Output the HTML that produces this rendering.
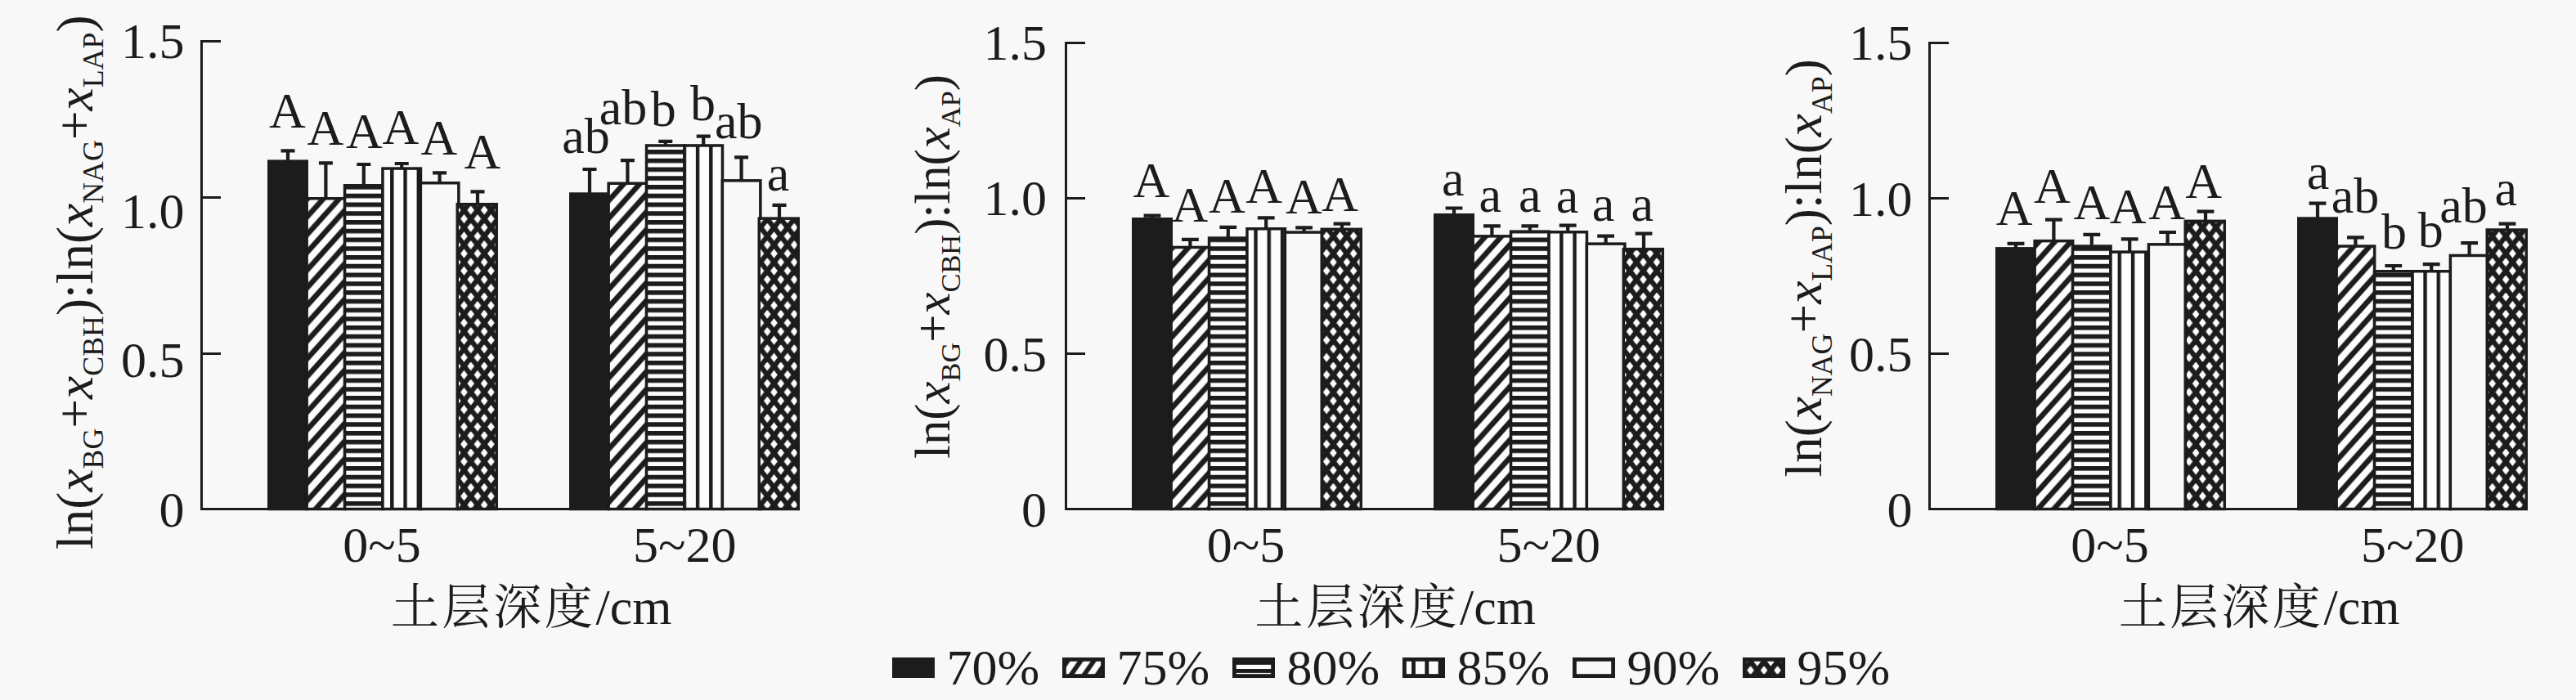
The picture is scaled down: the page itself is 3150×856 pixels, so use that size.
<!DOCTYPE html>
<html lang="zh"><head><meta charset="utf-8"><title>土层深度 酶化学计量比</title>
<style>
html,body{margin:0;padding:0;background:#f8f8f8;}
body{width:3150px;height:856px;overflow:hidden;}
svg{display:block;}
text{font-family:'Liberation Serif','Noto Serif CJK SC',serif;font-size:62px;fill:#1c1c1c;}
.i{font-style:italic;}
.s{font-size:35px;}
.cj{font-family:'Liberation Serif','Noto Serif CJK SC',serif;font-weight:400;}
</style></head><body>
<svg width="3150" height="856" viewBox="0 0 3150 856">
<defs>
<pattern id="pd" patternUnits="userSpaceOnUse" x="3" y="7" width="19.5" height="21.7">
<rect width="19.5" height="21.7" fill="#fdfdfd"/>
<line x1="-39" y1="43.4" x2="19.5" y2="-21.7" stroke="#1c1c1c" stroke-width="6.5"/>
<line x1="-19.5" y1="43.4" x2="39" y2="-21.7" stroke="#1c1c1c" stroke-width="6.5"/>
<line x1="0" y1="43.4" x2="58.5" y2="-21.7" stroke="#1c1c1c" stroke-width="6.5"/>
</pattern>
<pattern id="ph" patternUnits="userSpaceOnUse" x="0" y="0.25" width="20" height="10.75">
<rect width="20" height="10.75" fill="#fdfdfd"/>
<rect y="0" width="20" height="5.6" fill="#1c1c1c"/>
</pattern>
<pattern id="pv" patternUnits="userSpaceOnUse" x="5.85" y="0" width="16.25" height="20">
<rect width="16.25" height="20" fill="#fdfdfd"/>
<rect x="0" width="4.4" height="20" fill="#1c1c1c"/>
</pattern>
<pattern id="pc" patternUnits="userSpaceOnUse" x="-1.1" y="13.2" width="16.48" height="21.2">
<rect width="16.48" height="21.2" fill="#fdfdfd"/>
<line x1="-32.96" y1="42.4" x2="16.48" y2="-21.2" stroke="#1c1c1c" stroke-width="6.1"/>
<line x1="-32.96" y1="-21.2" x2="16.48" y2="42.4" stroke="#1c1c1c" stroke-width="6.1"/>
<line x1="-16.48" y1="42.4" x2="32.96" y2="-21.2" stroke="#1c1c1c" stroke-width="6.1"/>
<line x1="-16.48" y1="-21.2" x2="32.96" y2="42.4" stroke="#1c1c1c" stroke-width="6.1"/>
<line x1="0" y1="42.4" x2="49.44" y2="-21.2" stroke="#1c1c1c" stroke-width="6.1"/>
<line x1="0" y1="-21.2" x2="49.44" y2="42.4" stroke="#1c1c1c" stroke-width="6.1"/>
</pattern>
<pattern id="pdl" patternUnits="userSpaceOnUse" x="14.5" y="801" width="16" height="23">
<rect width="16" height="23" fill="#fdfdfd"/>
<line x1="-32" y1="46" x2="16" y2="-23" stroke="#1c1c1c" stroke-width="5.7"/>
<line x1="-16" y1="46" x2="32" y2="-23" stroke="#1c1c1c" stroke-width="5.7"/>
<line x1="0" y1="46" x2="48" y2="-23" stroke="#1c1c1c" stroke-width="5.7"/>
</pattern>
<pattern id="pcl" patternUnits="userSpaceOnUse" x="14.68" y="3.5" width="16.48" height="21.2">
<rect width="16.48" height="21.2" fill="#fdfdfd"/>
<line x1="-32.96" y1="42.4" x2="16.48" y2="-21.2" stroke="#1c1c1c" stroke-width="6.1"/>
<line x1="-32.96" y1="-21.2" x2="16.48" y2="42.4" stroke="#1c1c1c" stroke-width="6.1"/>
<line x1="-16.48" y1="42.4" x2="32.96" y2="-21.2" stroke="#1c1c1c" stroke-width="6.1"/>
<line x1="-16.48" y1="-21.2" x2="32.96" y2="42.4" stroke="#1c1c1c" stroke-width="6.1"/>
<line x1="0" y1="42.4" x2="49.44" y2="-21.2" stroke="#1c1c1c" stroke-width="6.1"/>
<line x1="0" y1="-21.2" x2="49.44" y2="42.4" stroke="#1c1c1c" stroke-width="6.1"/>
</pattern>
</defs>
<rect width="3150" height="856" fill="#f8f8f8"/>
<g>
<path d="M352 196.4V184.3M343.5 184.3H360.5" stroke="#1c1c1c" stroke-width="4.2" fill="none"/>
<rect x="328.75" y="197.15" width="46.5" height="425.35" fill="#1c1c1c" stroke="#1c1c1c" stroke-width="3.5"/>
<path d="M398.4 242V199.3M389.9 199.3H406.9" stroke="#1c1c1c" stroke-width="4.2" fill="none"/>
<rect x="375.15" y="242.75" width="46.5" height="379.75" fill="url(#pd)" stroke="#1c1c1c" stroke-width="3.5"/>
<path d="M444.8 226V201M436.3 201H453.3" stroke="#1c1c1c" stroke-width="4.2" fill="none"/>
<rect x="421.55" y="226.75" width="46.5" height="395.75" fill="url(#ph)" stroke="#1c1c1c" stroke-width="3.5"/>
<path d="M491.2 205.3V200M482.7 200H499.7" stroke="#1c1c1c" stroke-width="4.2" fill="none"/>
<rect x="467.95" y="206.05" width="46.5" height="416.45" fill="url(#pv)" stroke="#1c1c1c" stroke-width="3.5"/>
<path d="M537.6 223V211.4M529.1 211.4H546.1" stroke="#1c1c1c" stroke-width="4.2" fill="none"/>
<rect x="514.35" y="223.75" width="46.5" height="398.75" fill="#f8f8f8" stroke="#1c1c1c" stroke-width="3.5"/>
<path d="M584 249V234.3M575.5 234.3H592.5" stroke="#1c1c1c" stroke-width="4.2" fill="none"/>
<rect x="559.25" y="249.75" width="48" height="372.75" fill="url(#pc)" stroke="#1c1c1c" stroke-width="3.5"/>
<path d="M721 236.3V207M712.5 207H729.5" stroke="#1c1c1c" stroke-width="4.2" fill="none"/>
<rect x="697.75" y="237.05" width="46.5" height="385.45" fill="#1c1c1c" stroke="#1c1c1c" stroke-width="3.5"/>
<path d="M767.4 223.5V196.2M758.9 196.2H775.9" stroke="#1c1c1c" stroke-width="4.2" fill="none"/>
<rect x="744.15" y="224.25" width="46.5" height="398.25" fill="url(#pd)" stroke="#1c1c1c" stroke-width="3.5"/>
<path d="M813.8 177.2V172.8M805.3 172.8H822.3" stroke="#1c1c1c" stroke-width="4.2" fill="none"/>
<rect x="790.55" y="177.95" width="46.5" height="444.55" fill="url(#ph)" stroke="#1c1c1c" stroke-width="3.5"/>
<path d="M860.2 177.2V166.7M851.7 166.7H868.7" stroke="#1c1c1c" stroke-width="4.2" fill="none"/>
<rect x="836.95" y="177.95" width="46.5" height="444.55" fill="url(#pv)" stroke="#1c1c1c" stroke-width="3.5"/>
<path d="M906.6 220.1V192.4M898.1 192.4H915.1" stroke="#1c1c1c" stroke-width="4.2" fill="none"/>
<rect x="883.35" y="220.85" width="46.5" height="401.65" fill="#f8f8f8" stroke="#1c1c1c" stroke-width="3.5"/>
<path d="M953 266.4V250.8M944.5 250.8H961.5" stroke="#1c1c1c" stroke-width="4.2" fill="none"/>
<rect x="928.25" y="267.15" width="48" height="355.35" fill="url(#pc)" stroke="#1c1c1c" stroke-width="3.5"/>
<path d="M246.5 49V622.5H978" stroke="#1c1c1c" stroke-width="3" fill="none" stroke-linejoin="miter"/>
<line x1="246.5" y1="50.5" x2="270" y2="50.5" stroke="#1c1c1c" stroke-width="3"/>
<line x1="246.5" y1="241.5" x2="270" y2="241.5" stroke="#1c1c1c" stroke-width="3"/>
<line x1="246.5" y1="432.5" x2="270" y2="432.5" stroke="#1c1c1c" stroke-width="3"/>
<text x="225.5" y="70.9" text-anchor="end">1.5</text>
<text x="225.5" y="278.9" text-anchor="end">1.0</text>
<text x="225.5" y="461.4" text-anchor="end">0.5</text>
<text x="225.5" y="644" text-anchor="end">0</text>
<text x="351.5" y="155.5" text-anchor="middle">A</text>
<text x="397.8" y="177" text-anchor="middle">A</text>
<text x="445.4" y="180.8" text-anchor="middle">A</text>
<text x="490" y="176.2" text-anchor="middle">A</text>
<text x="537" y="188.6" text-anchor="middle">A</text>
<text x="589.8" y="205.7" text-anchor="middle">A</text>
<text x="716.4" y="187.2" text-anchor="middle">ab</text>
<text x="762" y="151.7" text-anchor="middle">ab</text>
<text x="811.2" y="154.3" text-anchor="middle">b</text>
<text x="859.4" y="147.1" text-anchor="middle">b</text>
<text x="903.2" y="169.2" text-anchor="middle">ab</text>
<text x="951.4" y="232.8" text-anchor="middle">a</text>
<text x="466.9" y="687.1" text-anchor="middle">0~5</text>
<text x="837.2" y="687.1" text-anchor="middle">5~20</text>
<text class="cj" x="478" y="762.6"><tspan style="font-size:59px;letter-spacing:3.6px">土层深度</tspan>/cm</text>
<text transform="translate(113 672) rotate(-90)"><tspan style="font-size:63.43px">ln(</tspan><tspan class="i" style="font-size:63.43px">x</tspan><tspan class="s" dy="12.5" style="font-size:35.8px">BG</tspan><tspan dy="-12.5" style="font-size:63.43px">+</tspan><tspan class="i" style="font-size:63.43px">x</tspan><tspan class="s" dy="12.5" style="font-size:35.8px">CBH</tspan><tspan dy="-12.5" style="font-size:63.43px">):ln(</tspan><tspan class="i" style="font-size:63.43px">x</tspan><tspan class="s" dy="12.5" style="font-size:35.8px">NAG</tspan><tspan dy="-12.5" style="font-size:63.43px">+</tspan><tspan class="i" style="font-size:63.43px">x</tspan><tspan class="s" dy="12.5" style="font-size:35.8px">LAP</tspan><tspan dy="-12.5" style="font-size:63.43px">)</tspan></text>
</g>
<g>
<path d="M1409 267V263.6M1398.6 263.6H1419.4" stroke="#1c1c1c" stroke-width="4.2" fill="none"/>
<rect x="1385.75" y="267.75" width="46.5" height="354.75" fill="#1c1c1c" stroke="#1c1c1c" stroke-width="3.5"/>
<path d="M1455.4 301.7V292.9M1445 292.9H1465.8" stroke="#1c1c1c" stroke-width="4.2" fill="none"/>
<rect x="1432.15" y="302.45" width="46.5" height="320.05" fill="url(#pd)" stroke="#1c1c1c" stroke-width="3.5"/>
<path d="M1501.8 290.3V277.9M1491.4 277.9H1512.2" stroke="#1c1c1c" stroke-width="4.2" fill="none"/>
<rect x="1478.55" y="291.05" width="46.5" height="331.45" fill="url(#ph)" stroke="#1c1c1c" stroke-width="3.5"/>
<path d="M1548.2 279V266.4M1537.8 266.4H1558.6" stroke="#1c1c1c" stroke-width="4.2" fill="none"/>
<rect x="1524.95" y="279.75" width="46.5" height="342.75" fill="url(#pv)" stroke="#1c1c1c" stroke-width="3.5"/>
<path d="M1594.6 283.3V278.3M1584.2 278.3H1605" stroke="#1c1c1c" stroke-width="4.2" fill="none"/>
<rect x="1571.35" y="284.05" width="46.5" height="338.45" fill="#f8f8f8" stroke="#1c1c1c" stroke-width="3.5"/>
<path d="M1641 279.6V273.6M1630.6 273.6H1651.4" stroke="#1c1c1c" stroke-width="4.2" fill="none"/>
<rect x="1616.25" y="280.35" width="48" height="342.15" fill="url(#pc)" stroke="#1c1c1c" stroke-width="3.5"/>
<path d="M1778 262V254.5M1767.6 254.5H1788.4" stroke="#1c1c1c" stroke-width="4.2" fill="none"/>
<rect x="1754.75" y="262.75" width="46.5" height="359.75" fill="#1c1c1c" stroke="#1c1c1c" stroke-width="3.5"/>
<path d="M1824.4 288.1V276.4M1814 276.4H1834.8" stroke="#1c1c1c" stroke-width="4.2" fill="none"/>
<rect x="1801.15" y="288.85" width="46.5" height="333.65" fill="url(#pd)" stroke="#1c1c1c" stroke-width="3.5"/>
<path d="M1870.8 282.4V276.4M1860.4 276.4H1881.2" stroke="#1c1c1c" stroke-width="4.2" fill="none"/>
<rect x="1847.55" y="283.15" width="46.5" height="339.35" fill="url(#ph)" stroke="#1c1c1c" stroke-width="3.5"/>
<path d="M1917.2 283V275.7M1906.8 275.7H1927.6" stroke="#1c1c1c" stroke-width="4.2" fill="none"/>
<rect x="1893.95" y="283.75" width="46.5" height="338.75" fill="url(#pv)" stroke="#1c1c1c" stroke-width="3.5"/>
<path d="M1963.6 297.4V288.6M1953.2 288.6H1974" stroke="#1c1c1c" stroke-width="4.2" fill="none"/>
<rect x="1940.35" y="298.15" width="46.5" height="324.35" fill="#f8f8f8" stroke="#1c1c1c" stroke-width="3.5"/>
<path d="M2010 303.9V285.7M1999.6 285.7H2020.4" stroke="#1c1c1c" stroke-width="4.2" fill="none"/>
<rect x="1985.25" y="304.65" width="48" height="317.85" fill="url(#pc)" stroke="#1c1c1c" stroke-width="3.5"/>
<path d="M1303.5 51V622.5H2035" stroke="#1c1c1c" stroke-width="3" fill="none" stroke-linejoin="miter"/>
<line x1="1303.5" y1="52.5" x2="1327" y2="52.5" stroke="#1c1c1c" stroke-width="3"/>
<line x1="1303.5" y1="242.5" x2="1327" y2="242.5" stroke="#1c1c1c" stroke-width="3"/>
<line x1="1303.5" y1="432.5" x2="1327" y2="432.5" stroke="#1c1c1c" stroke-width="3"/>
<text x="1280" y="72.8" text-anchor="end">1.5</text>
<text x="1280" y="263.2" text-anchor="end">1.0</text>
<text x="1280" y="453.7" text-anchor="end">0.5</text>
<text x="1280" y="643.5" text-anchor="end">0</text>
<text x="1407.9" y="241.1" text-anchor="middle">A</text>
<text x="1455" y="271.4" text-anchor="middle">A</text>
<text x="1500.4" y="260.3" text-anchor="middle">A</text>
<text x="1545.7" y="248.3" text-anchor="middle">A</text>
<text x="1594.3" y="261.4" text-anchor="middle">A</text>
<text x="1638.6" y="258.3" text-anchor="middle">A</text>
<text x="1776.8" y="239.3" text-anchor="middle">a</text>
<text x="1822.2" y="259.3" text-anchor="middle">a</text>
<text x="1870.8" y="259.3" text-anchor="middle">a</text>
<text x="1916.5" y="260" text-anchor="middle">a</text>
<text x="1960.4" y="270" text-anchor="middle">a</text>
<text x="2008.2" y="270" text-anchor="middle">a</text>
<text x="1523.5" y="687.1" text-anchor="middle">0~5</text>
<text x="1893.8" y="687.1" text-anchor="middle">5~20</text>
<text class="cj" x="1534.6" y="762.6"><tspan style="font-size:59px;letter-spacing:3.6px">土层深度</tspan>/cm</text>
<text transform="translate(1161 561) rotate(-90)"><tspan style="font-size:60.82px">ln(</tspan><tspan class="i" style="font-size:60.82px">x</tspan><tspan class="s" dy="12.5" style="font-size:34.34px">BG</tspan><tspan dy="-12.5" style="font-size:60.82px">+</tspan><tspan class="i" style="font-size:60.82px">x</tspan><tspan class="s" dy="12.5" style="font-size:34.34px">CBH</tspan><tspan dy="-12.5" style="font-size:60.82px">):ln(</tspan><tspan class="i" style="font-size:60.82px">x</tspan><tspan class="s" dy="12.5" style="font-size:34.34px">AP</tspan><tspan dy="-12.5" style="font-size:60.82px">)</tspan></text>
</g>
<g>
<path d="M2465 303.1V297.9M2454.6 297.9H2475.4" stroke="#1c1c1c" stroke-width="4.2" fill="none"/>
<rect x="2441.75" y="303.85" width="46.5" height="318.65" fill="#1c1c1c" stroke="#1c1c1c" stroke-width="3.5"/>
<path d="M2511.4 293.9V268.6M2501 268.6H2521.8" stroke="#1c1c1c" stroke-width="4.2" fill="none"/>
<rect x="2488.15" y="294.65" width="46.5" height="327.85" fill="url(#pd)" stroke="#1c1c1c" stroke-width="3.5"/>
<path d="M2557.8 300.3V286.9M2547.4 286.9H2568.2" stroke="#1c1c1c" stroke-width="4.2" fill="none"/>
<rect x="2534.55" y="301.05" width="46.5" height="321.45" fill="url(#ph)" stroke="#1c1c1c" stroke-width="3.5"/>
<path d="M2604.2 307.4V292.4M2593.8 292.4H2614.6" stroke="#1c1c1c" stroke-width="4.2" fill="none"/>
<rect x="2580.95" y="308.15" width="46.5" height="314.35" fill="url(#pv)" stroke="#1c1c1c" stroke-width="3.5"/>
<path d="M2650.6 298.1V284M2640.2 284H2661" stroke="#1c1c1c" stroke-width="4.2" fill="none"/>
<rect x="2627.35" y="298.85" width="46.5" height="323.65" fill="#f8f8f8" stroke="#1c1c1c" stroke-width="3.5"/>
<path d="M2697 269.6V258.6M2686.6 258.6H2707.4" stroke="#1c1c1c" stroke-width="4.2" fill="none"/>
<rect x="2672.25" y="270.35" width="48" height="352.15" fill="url(#pc)" stroke="#1c1c1c" stroke-width="3.5"/>
<path d="M2834 266.3V248.6M2823.6 248.6H2844.4" stroke="#1c1c1c" stroke-width="4.2" fill="none"/>
<rect x="2810.75" y="267.05" width="46.5" height="355.45" fill="#1c1c1c" stroke="#1c1c1c" stroke-width="3.5"/>
<path d="M2880.4 300.3V290.4M2870 290.4H2890.8" stroke="#1c1c1c" stroke-width="4.2" fill="none"/>
<rect x="2857.15" y="301.05" width="46.5" height="321.45" fill="url(#pd)" stroke="#1c1c1c" stroke-width="3.5"/>
<path d="M2926.8 331V325M2916.4 325H2937.2" stroke="#1c1c1c" stroke-width="4.2" fill="none"/>
<rect x="2903.55" y="331.75" width="46.5" height="290.75" fill="url(#ph)" stroke="#1c1c1c" stroke-width="3.5"/>
<path d="M2973.2 331V323.1M2962.8 323.1H2983.6" stroke="#1c1c1c" stroke-width="4.2" fill="none"/>
<rect x="2949.95" y="331.75" width="46.5" height="290.75" fill="url(#pv)" stroke="#1c1c1c" stroke-width="3.5"/>
<path d="M3019.6 311.7V297.1M3009.2 297.1H3030" stroke="#1c1c1c" stroke-width="4.2" fill="none"/>
<rect x="2996.35" y="312.45" width="46.5" height="310.05" fill="#f8f8f8" stroke="#1c1c1c" stroke-width="3.5"/>
<path d="M3066 280.3V273.6M3055.6 273.6H3076.4" stroke="#1c1c1c" stroke-width="4.2" fill="none"/>
<rect x="3041.25" y="281.05" width="48" height="341.45" fill="url(#pc)" stroke="#1c1c1c" stroke-width="3.5"/>
<path d="M2359.5 51V622.5H3091" stroke="#1c1c1c" stroke-width="3" fill="none" stroke-linejoin="miter"/>
<line x1="2359.5" y1="52.5" x2="2383" y2="52.5" stroke="#1c1c1c" stroke-width="3"/>
<line x1="2359.5" y1="242.5" x2="2383" y2="242.5" stroke="#1c1c1c" stroke-width="3"/>
<line x1="2359.5" y1="432.5" x2="2383" y2="432.5" stroke="#1c1c1c" stroke-width="3"/>
<text x="2338.6" y="72.8" text-anchor="end">1.5</text>
<text x="2338.6" y="263.5" text-anchor="end">1.0</text>
<text x="2338.6" y="453.5" text-anchor="end">0.5</text>
<text x="2338.6" y="643.5" text-anchor="end">0</text>
<text x="2463.2" y="275.4" text-anchor="middle">A</text>
<text x="2509.3" y="248.3" text-anchor="middle">A</text>
<text x="2557.9" y="267.6" text-anchor="middle">A</text>
<text x="2602.2" y="272.6" text-anchor="middle">A</text>
<text x="2649.7" y="268.3" text-anchor="middle">A</text>
<text x="2694.7" y="242.1" text-anchor="middle">A</text>
<text x="2834.6" y="230.7" text-anchor="middle">a</text>
<text x="2880" y="260" text-anchor="middle">ab</text>
<text x="2927.5" y="304.3" text-anchor="middle">b</text>
<text x="2972.2" y="301.7" text-anchor="middle">b</text>
<text x="3012.5" y="272" text-anchor="middle">ab</text>
<text x="3064.3" y="251.4" text-anchor="middle">a</text>
<text x="2579.9" y="687.1" text-anchor="middle">0~5</text>
<text x="2950.2" y="687.1" text-anchor="middle">5~20</text>
<text class="cj" x="2591" y="762.6"><tspan style="font-size:59px;letter-spacing:3.6px">土层深度</tspan>/cm</text>
<text transform="translate(2227 583.5) rotate(-90)"><tspan style="font-size:63.33px">ln(</tspan><tspan class="i" style="font-size:63.33px">x</tspan><tspan class="s" dy="12.5" style="font-size:35.75px">NAG</tspan><tspan dy="-12.5" style="font-size:63.33px">+</tspan><tspan class="i" style="font-size:63.33px">x</tspan><tspan class="s" dy="12.5" style="font-size:35.75px">LAP</tspan><tspan dy="-12.5" style="font-size:63.33px">):ln(</tspan><tspan class="i" style="font-size:63.33px">x</tspan><tspan class="s" dy="12.5" style="font-size:35.75px">AP</tspan><tspan dy="-12.5" style="font-size:63.33px">)</tspan></text>
</g>
<g>
<rect x="1093.4" y="806.4" width="47.2" height="20.2" fill="#1c1c1c" stroke="#1c1c1c" stroke-width="4.8"/>
<text x="1157.5" y="836.6">70%</text>
<rect x="1301.4" y="806.4" width="47.2" height="20.2" fill="url(#pdl)" stroke="#1c1c1c" stroke-width="4.8"/>
<text x="1365.5" y="836.6">75%</text>
<rect x="1509.4" y="806.4" width="47.2" height="20.2" fill="#fdfdfd" stroke="#1c1c1c" stroke-width="4.8"/>
<rect x="1508" y="808" width="50" height="4.9" fill="#1c1c1c"/>
<rect x="1508" y="818" width="50" height="4.9" fill="#1c1c1c"/>
<text x="1573.5" y="836.6">80%</text>
<rect x="1717.4" y="806.4" width="47.2" height="20.2" fill="#fdfdfd" stroke="#1c1c1c" stroke-width="4.8"/>
<rect x="1726.1" y="805" width="4.8" height="23" fill="#1c1c1c"/>
<rect x="1742.4" y="805" width="4.8" height="23" fill="#1c1c1c"/>
<rect x="1758.7" y="805" width="4.8" height="23" fill="#1c1c1c"/>
<text x="1781.5" y="836.6">85%</text>
<rect x="1925.4" y="806.4" width="47.2" height="20.2" fill="#f8f8f8" stroke="#1c1c1c" stroke-width="4.8"/>
<text x="1989.5" y="836.6">90%</text>
<rect x="2133.4" y="806.4" width="47.2" height="20.2" fill="url(#pcl)" stroke="#1c1c1c" stroke-width="4.8"/>
<text x="2197.5" y="836.6">95%</text>
</g>
</svg></body></html>
